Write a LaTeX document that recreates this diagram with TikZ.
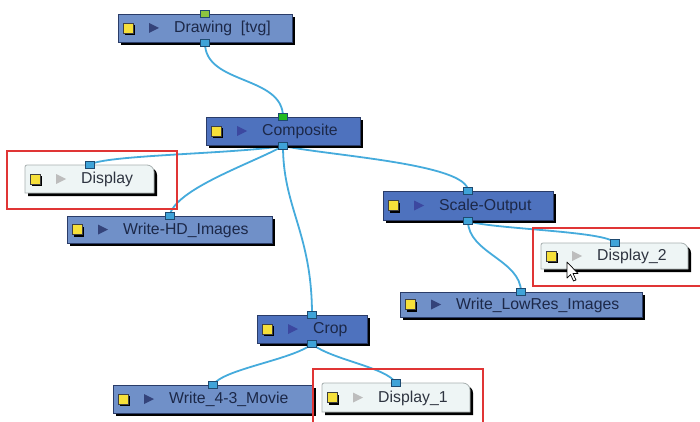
\documentclass[tikz,border=0pt]{standalone}
\usepackage{fontspec}
\setmainfont{Liberation Sans}
\usetikzlibrary{shadows}
\pgfdeclarelayer{bg}
\pgfdeclarelayer{wires}
\pgfsetlayers{bg,wires,main}
\definecolor{nodelight}{HTML}{7090C8}
\definecolor{nodedark}{HTML}{4E72BE}
\definecolor{nodeedge}{HTML}{2A3C68}
\definecolor{nodetext}{HTML}{1C2848}
\definecolor{trilight}{HTML}{34437A}
\definecolor{tridark}{HTML}{3C48A0}
\definecolor{dispfill}{HTML}{EEF5F5}
\definecolor{dispedge}{HTML}{A8B0B0}
\definecolor{disptext}{HTML}{2E3440}
\definecolor{dispTri}{HTML}{BDBDBD}
\definecolor{iconyellow}{HTML}{F6E03A}
\definecolor{portblue}{HTML}{3FA3D8}
\definecolor{portedge}{HTML}{1E4A70}
\definecolor{portlime}{HTML}{8CC63F}
\definecolor{portgreen}{HTML}{22BB22}
\definecolor{wirecol}{HTML}{45ABDC}
\definecolor{redframe}{HTML}{E03535}
\tikzset{
  boxbase/.style={rectangle, inner sep=0pt, outer sep=0pt},
  bluebox/.style={boxbase, draw=nodeedge, line width=0.8pt,
     drop shadow={shadow xshift=3pt, shadow yshift=-3pt, opacity=1, fill=black}},
  lightbox/.style={bluebox, fill=nodelight},
  darkbox/.style={bluebox, fill=nodedark},
  dispbox/.style={boxbase},
  lbl/.style={inner sep=0pt, font=\fontsize{15.8}{18}\selectfont, text height=11pt, text depth=3pt},
  port/.style={rectangle, minimum width=9pt, minimum height=7pt, inner sep=0pt, outer sep=0pt,
     fill=portblue, draw=portedge, line width=0.6pt},
  wire/.style={draw=wirecol, line width=1.8pt},
  redbox/.style={draw=redframe, line width=1.5pt},
}
\newcommand\flowbox[8]{%
  \node[#6, minimum width={#4-#2}, minimum height={#5-#3}, anchor=north west] (#1) at (#2,#3) {};
  \fill[black] ([xshift=7pt,yshift=3pt]#1.west) rectangle ([xshift=17pt,yshift=-7pt]#1.west);
  \filldraw[fill=iconyellow, draw=black!75, line width=0.6pt] ([xshift=5pt,yshift=5pt]#1.west) rectangle ([xshift=15pt,yshift=-5pt]#1.west);
  \fill[#7] ([xshift=31pt,yshift=5pt]#1.west) -- ([xshift=41pt]#1.west) -- ([xshift=31pt,yshift=-5pt]#1.west) -- cycle;
  \node[lbl, anchor=west, text=#8] (#1-t) at ([xshift=56pt,yshift=-0.5pt]#1.west) {\flowtext};
}
\newcommand\dispoutline[1]{%
  \fill[black] ([shift={(3pt,-3pt)}]#1.south west) [rounded corners=2pt]-- ([shift={(3pt,-3pt)}]#1.north west) [rounded corners=7pt]-- ([shift={(3pt,-3pt)}]#1.north east) [sharp corners]-- ([shift={(3pt,-3pt)}]#1.south east) -- cycle;
  \filldraw[fill=dispfill, draw=dispedge, line width=0.8pt] (#1.south west) [rounded corners=2pt]-- (#1.north west) [rounded corners=7pt]-- (#1.north east) [sharp corners]-- (#1.south east) -- cycle;
}
\begin{document}
\begin{tikzpicture}[x=1pt,y=-1pt]
\useasboundingbox (0,0) rectangle (700,422);
\begin{pgfonlayer}{bg}
\fill[white] (0,0) rectangle (700,422);
\end{pgfonlayer}

% blue nodes
\def\flowtext{Drawing\ \ [tvg]}
\flowbox{dr}{118}{14}{292}{42}{lightbox}{trilight}{nodetext}
\def\flowtext{Composite}
\flowbox{comp}{206}{117}{360}{145}{darkbox}{tridark}{nodetext}
\def\flowtext{Write-HD\_Images}
\flowbox{whd}{67}{216}{272}{243}{lightbox}{trilight}{nodetext}
\def\flowtext{Scale-Output}
\flowbox{scale}{383}{191}{553}{220}{darkbox}{tridark}{nodetext}
\def\flowtext{Write\_LowRes\_Images}
\flowbox{wlow}{400}{292}{642}{317}{lightbox}{trilight}{nodetext}
\def\flowtext{Crop}
\flowbox{crop}{257}{315}{367}{343}{darkbox}{tridark}{nodetext}
\def\flowtext{Write\_4-3\_Movie}
\flowbox{wmov}{113}{385}{313}{413}{lightbox}{trilight}{nodetext}

% display nodes
\node[dispbox, minimum width=129, minimum height=28, anchor=north west] (disp) at (25,165) {};
\dispoutline{disp}
\def\flowtext{Display}
\flowbox{disp}{25}{165}{154}{193}{dispbox}{dispTri}{disptext}

\node[dispbox, minimum width=147, minimum height=26, anchor=north west] (dispb) at (541,243) {};
\dispoutline{dispb}
\def\flowtext{Display\_2}
\flowbox{dispb}{541}{243}{688}{269}{dispbox}{dispTri}{disptext}

\node[dispbox, minimum width=148, minimum height=29, anchor=north west] (dispa) at (322,383) {};
\dispoutline{dispa}
\def\flowtext{Display\_1}
\flowbox{dispa}{322}{383}{470}{412}{dispbox}{dispTri}{disptext}

% ports
\node[port, fill=portlime] (dr-in) at (dr.north) {};
\node[port] (dr-out) at ([yshift=-1pt]dr.south) {};
\node[port, fill=portgreen] (comp-in) at (comp.north) {};
\node[port] (comp-out) at ([yshift=-1pt]comp.south) {};
\node[port] (disp-in) at (disp.north) {};
\node[port] (whd-in) at (whd.north) {};
\node[port] (scale-in) at (scale.north) {};
\node[port] (scale-out) at ([yshift=-1pt]scale.south) {};
\node[port] (dispb-in) at (dispb.north) {};
\node[port] (wlow-in) at (wlow.north) {};
\node[port] (crop-in) at (crop.north) {};
\node[port] (crop-out) at ([yshift=-1pt]crop.south) {};
\node[port] (wmov-in) at (wmov.north) {};
\node[port] (dispa-in) at (dispa.north) {};

% wires (behind the nodes)
\begin{pgfonlayer}{wires}
\draw[wire] (dr-out.center) .. controls +(0,42) and +(0,-42) .. (comp-in.center);
\draw[wire] (comp-out.center) .. controls +(-50,8) and +(12,-10) .. (disp-in.center);
\draw[wire] (comp-out.center) .. controls +(-30,17) and +(5,-27) .. (whd-in.center);
\draw[wire] (comp-out.center) .. controls +(50,10) and +(0,-27) .. (scale-in.center);
\draw[wire] (comp-out.center) .. controls +(0,62) and +(0,-82) .. (crop-in.center);
\draw[wire] (scale-out.center) .. controls +(20,8) and +(-5,-12) .. (dispb-in.center);
\draw[wire] (scale-out.center) .. controls +(0,32) and +(0,-32) .. (wlow-in.center);
\draw[wire] (crop-out.center) .. controls +(-20,16) and +(10,-16) .. (wmov-in.center);
\draw[wire] (crop-out.center) .. controls +(20,16) and +(-10,-16) .. (dispa-in.center);
\end{pgfonlayer}

% red frames
\draw[redbox] (7,151) rectangle (177,209);
\draw[redbox] (533,228) rectangle (702,286);
\draw[redbox] (313,424) -- (313,369) -- (483,369) -- (483,424);

% mouse cursor
\filldraw[fill=white, draw=black, line width=0.7pt, line join=round]
  (567,262) -- (567,278) -- (570.5,274.5) -- (573.5,281) -- (576,280) -- (573,273.5) -- (578,273.5) -- cycle;
\end{tikzpicture}
\end{document}
